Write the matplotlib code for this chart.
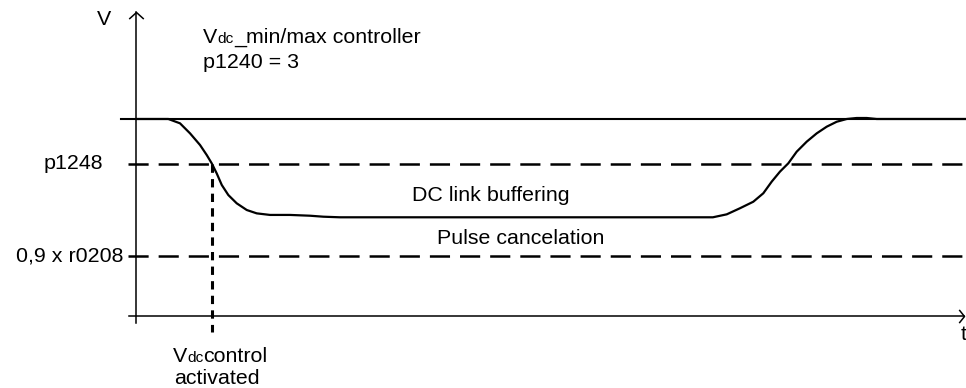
import matplotlib
matplotlib.use("Agg")
import matplotlib.pyplot as plt
from matplotlib.path import Path

plt.rcParams["font.family"] = ["Liberation Sans", "DejaVu Sans"]
plt.rcParams["lines.scale_dashes"] = False

# voltage levels (normalised, V_nom = 1)
v_nom = 1.0
v_p1248 = 0.772
v_r0208 = 0.305

# DC link voltage curve (t in arbitrary time units, V normalised)
t_curve = [0, 3.89, 5.30, 6.51, 7.71, 8.52, 9.12, 9.72, 10.33, 11.12, 12.13, 13.34, 14.54,
           16.14, 18.55, 20.96, 22.57, 24.58, 69.5, 71.17, 72.77, 74.37, 75.58, 76.59,
           77.59, 78.59, 79.60, 80.81, 82.01, 83.22, 84.42, 85.63, 86.83, 88.04, 89.24, 100]
v_curve = [1.0, 1.0, 0.978, 0.927, 0.868, 0.817, 0.775, 0.724, 0.665, 0.614, 0.572, 0.538,
           0.521, 0.513, 0.513, 0.509, 0.504, 0.501, 0.501, 0.516, 0.547, 0.580, 0.623,
           0.682, 0.733, 0.775, 0.834, 0.885, 0.927, 0.961, 0.986, 1.0, 1.005, 1.005, 1.0, 1.0]

t_activated = 9.12
t_start = -1.8
t_end = 100

fig = plt.figure(figsize=(9.66, 3.88), dpi=100)
ax = fig.add_axes([0, 0, 1, 1])
ax.set_xlim(-16.39, 100.0)
ax.set_ylim(-0.3655, 1.604)
ax.axis("off")

fs = 15.4

# axes with open chevron arrowheads
head_right = Path([(-0.8, 1), (0, 0), (-0.8, -1)], [Path.MOVETO, Path.LINETO, Path.LINETO])
head_up = Path([(-1, -0.9), (0, 0), (1, -0.9)], [Path.MOVETO, Path.LINETO, Path.LINETO])
ax.plot([-0.85, 99.75], [0, 0], color="black", lw=1.1)
ax.plot([0, 0], [-0.036, 1.545], color="black", lw=1.1)
ax.plot([99.75], [0], marker=head_right, ms=9.5, mfc="none", mec="black", mew=1.1, clip_on=False)
ax.plot([0], [1.545], marker=head_up, ms=10.5, mfc="none", mec="black", mew=1.1, clip_on=False)

# reference levels
ax.plot([t_start, t_end], [v_nom, v_nom], color="black", lw=1.5)
ax.plot([-0.95, t_end], [v_p1248, v_p1248], color="black", lw=1.8, dashes=(14.5, 7.2))
ax.plot([-0.95, t_end], [v_r0208, v_r0208], color="black", lw=1.8, dashes=(14.5, 7.2))

# activation marker
ax.plot([t_activated, t_activated], [v_p1248, -0.081], color="black", lw=2.2, dashes=(6, 4.5))

# DC link voltage
ax.plot(t_curve, v_curve, color="black", lw=1.6, solid_joinstyle="round", solid_capstyle="round")

# labels
ax.text(-3.86, 1.503, "V", fontsize=fs, ha="center", va="center")
ax.text(99.7, -0.096, "t", fontsize=fs, ha="center", va="center")
ax.text(-4.0, v_p1248, "p1248", fontsize=fs, ha="right", va="center")
ax.text(-1.5, v_r0208, "0,9 x r0208", fontsize=fs, ha="right", va="center")
ax.text(42.8, 0.614, "DC link buffering", fontsize=fs, ha="center", va="center")
ax.text(46.4, 0.391, "Pulse cancelation", fontsize=fs, ha="center", va="center")
ax.text(8.1, 1.289, "p1240 = 3", fontsize=fs, ha="left", va="center")
ax.text(4.6, -0.315, "activated", fontsize=fs, ha="left", va="center")

# texts with small "dc" after V
renderer = fig.canvas.get_renderer()


def v_dc_text(x, y, rest):
    t1 = ax.text(x, y, "V", fontsize=fs, ha="left", va="baseline")
    bb = t1.get_window_extent(renderer)
    x2 = ax.transData.inverted().transform((bb.x1, bb.y0))[0]
    t2 = ax.text(x2, y, "dc", fontsize=fs * 0.72, ha="left", va="baseline")
    bb2 = t2.get_window_extent(renderer)
    x3 = ax.transData.inverted().transform((bb2.x1, bb2.y0))[0]
    ax.text(x3, y, rest, fontsize=fs, ha="left", va="baseline")


v_dc_text(8.1, 1.385, "_min/max controller")
v_dc_text(4.45, -0.235, "control")

fig.savefig("out.png", dpi=100)
